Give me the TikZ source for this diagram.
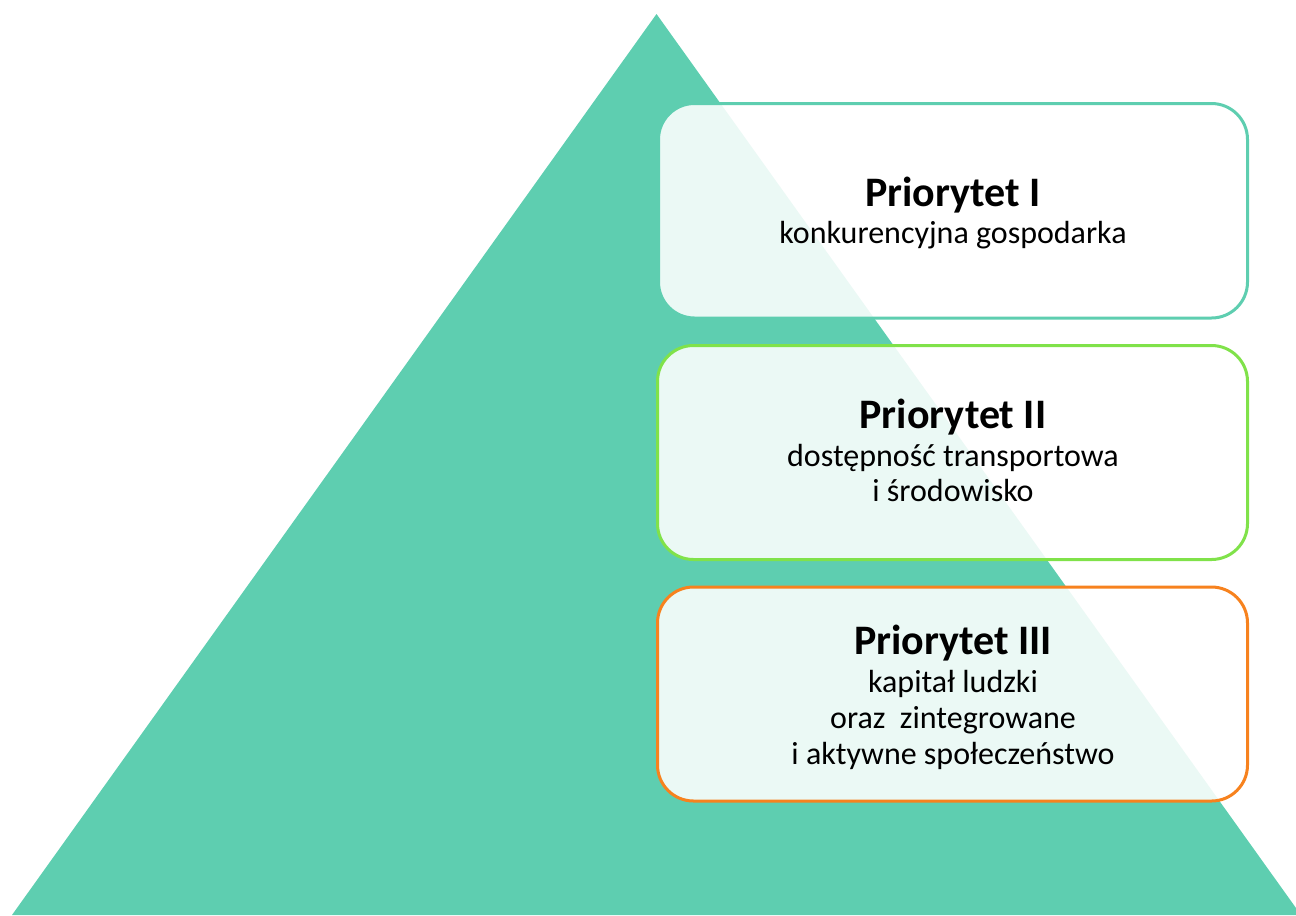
\documentclass[tikz,border=0pt]{standalone}
\usepackage{fontspec}
\setmainfont{Carlito}
\definecolor{tri}{HTML}{5ECEB0}
\definecolor{bteal}{HTML}{5ECEB0}
\definecolor{bgreen}{HTML}{80E24A}
\definecolor{borange}{HTML}{F7821E}
\tikzset{
  box/.style={draw, line width=2.25pt, rounded corners=27pt, fill=white, fill opacity=0.88, draw opacity=1},
  ttl/.style={anchor=base, inner sep=0pt, font=\fontsize{31.5}{36}\selectfont\bfseries, text=black},
  bdy/.style={anchor=base, inner sep=0pt, font=\fontsize{24}{27}\selectfont, text=black}
}
\begin{document}
\begin{tikzpicture}[x=0.75pt, y=-0.75pt]
\useasboundingbox (0,0) rectangle (1296,915);
\fill[tri] (656.5,14) -- (12,915) -- (1301,915) -- cycle;
\draw[box, draw=bteal] (658.5,103.5) rectangle (1247.5,318);
\draw[box, draw=bgreen] (657.5,345.5) rectangle (1247.5,559.5);
\draw[box, draw=borange] (657.5,587) rectangle (1247.5,801);
\node[ttl] (t1) at (953,206.5) {Priorytet I};
\node[bdy] (b1) at (953,243.3) {konkurencyjna gospodarka};
\node[ttl] (t2) at (953,428.3) {Priorytet II};
\node[bdy] (b2a) at (953,466.7) {dostępność transportowa};
\node[bdy] (b2b) at (953,501.7) {i środowisko};
\node[ttl] (t3) at (953,654) {Priorytet III};
\node[bdy] (b3a) at (953,692) {kapitał ludzki};
\node[bdy] (b3b) at (953,728) {oraz\ \ zintegrowane};
\node[bdy] (b3c) at (953,764) {i aktywne społeczeństwo};
\end{tikzpicture}
\end{document}
